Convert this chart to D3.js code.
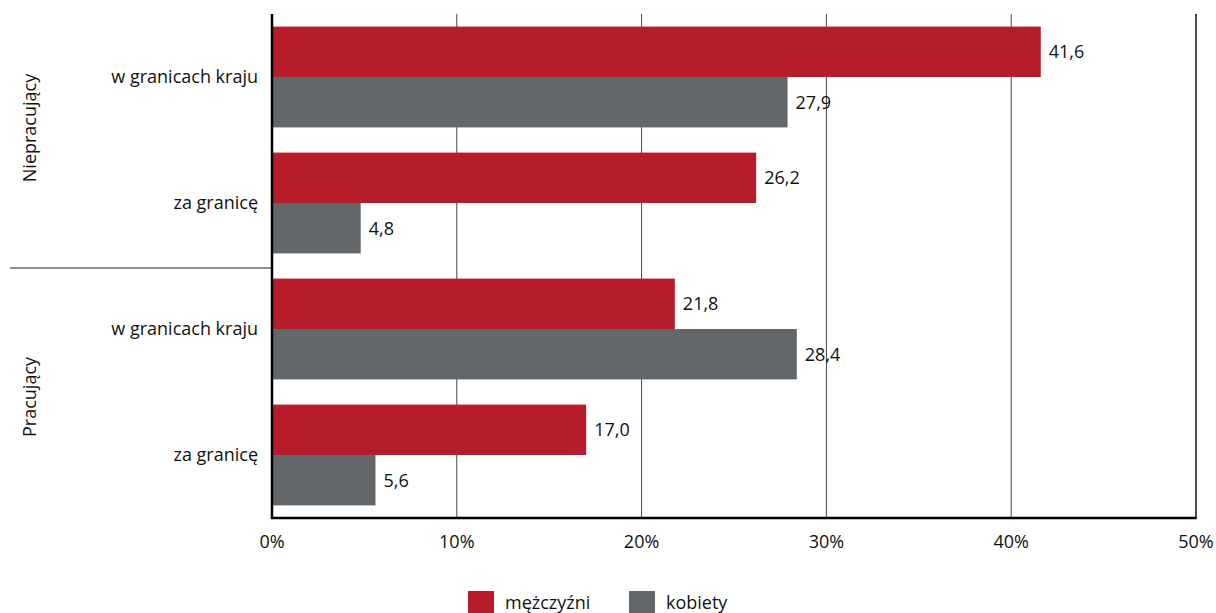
<!DOCTYPE html>
<html><head><meta charset="utf-8">
<script src="https://cdn.jsdelivr.net/npm/d3@7"></script>
<style>body{margin:0;background:#fff}svg{display:block}text{font-family:"Open Sans",sans-serif;fill:#111}</style>
</head><body><svg id="c" width="1216" height="613"></svg>
<script>
const groups = ["Niepracujący", "Pracujący"];
const categories = ["w granicach kraju", "za granicę", "w granicach kraju", "za granicę"];
const categoryGroup = [0, 0, 1, 1];
const seriesNames = ["mężczyźni", "kobiety"];
const men = [41.6, 26.2, 21.8, 17.0];
const women = [27.9, 4.8, 28.4, 5.6];
const xTicks = [0, 10, 20, 30, 40, 50];
const colors = ["#b71c2b", "#63676a"];

(function () {
const FS = 18;
const svg = d3.select("#c");
const mLeft = 272, mRight = 1196, mTop = 14, mBottom = 518;
const x = d3.scaleLinear().domain([0, 50]).range([mLeft, mRight]);
const y = d3.scaleBand().domain(d3.range(categories.length)).range([mTop, mBottom]).paddingInner(0.2).paddingOuter(0.1);
const ys = d3.scaleBand().domain([0, 1]).range([0, y.bandwidth()]);
const fmt = v => v.toFixed(1).replace(".", ",");

// gridlines
svg.append("g").selectAll("line").data(xTicks.slice(1, -1)).join("line")
  .attr("x1", d => x(d)).attr("x2", d => x(d)).attr("y1", mTop).attr("y2", mBottom)
  .attr("stroke", "#444").attr("stroke-width", 1);
svg.append("line").attr("x1", x(50)).attr("x2", x(50)).attr("y1", mTop).attr("y2", mBottom)
  .attr("stroke", "#111").attr("stroke-width", 1.5);

// bars
const series = [men, women];
series.forEach((vals, si) => {
  const g = svg.append("g");
  g.selectAll("rect").data(vals).join("rect")
    .attr("x", x(0)).attr("y", (d, i) => y(i) + ys(si))
    .attr("width", d => x(d) - x(0)).attr("height", ys.bandwidth())
    .attr("fill", colors[si]);
  g.selectAll("text").data(vals).join("text")
    .attr("x", d => x(d) + 8).attr("y", (d, i) => y(i) + ys(si) + ys.bandwidth() / 2)
    .attr("dy", "0.35em").attr("font-size", FS).text(fmt);
});

// axes lines
svg.append("line").attr("x1", mLeft).attr("x2", mLeft).attr("y1", mTop).attr("y2", mBottom + 1)
  .attr("stroke", "#000").attr("stroke-width", 2.5);
svg.append("line").attr("x1", mLeft - 1).attr("x2", mRight + 0.75).attr("y1", mBottom).attr("y2", mBottom)
  .attr("stroke", "#000").attr("stroke-width", 2.5);

// x tick labels
svg.append("g").selectAll("text").data(xTicks).join("text")
  .attr("x", d => x(d)).attr("y", 542).attr("dy", "0.35em").attr("text-anchor", "middle")
  .attr("font-size", FS).text(d => d + "%");

// category labels
svg.append("g").selectAll("text").data(categories).join("text")
  .attr("x", 258).attr("y", (d, i) => y(i) + y.bandwidth() / 2)
  .attr("dy", "0.35em").attr("text-anchor", "end").attr("font-size", FS).text(d => d);

// group labels and separator
const groupShift = [-12, 5];
groups.forEach((gname, gi) => {
  const idx = categoryGroup.map((g, i) => g === gi ? i : -1).filter(i => i >= 0);
  const y0 = y(idx[0]) - y.step() * y.paddingOuter();
  const y1 = y(idx[idx.length - 1]) + y.bandwidth() + y.step() * y.paddingOuter();
  const cy = (y0 + y1) / 2 + groupShift[gi];
  svg.append("text").attr("transform", `translate(30,${cy}) rotate(-90)`)
    .attr("text-anchor", "middle").attr("dy", "0.35em").attr("font-size", FS).text(gname);
});
const sepY = (y(1) + y.bandwidth() + y(2)) / 2 + 2;
svg.append("line").attr("x1", 10).attr("x2", mLeft).attr("y1", sepY).attr("y2", sepY)
  .attr("stroke", "#222").attr("stroke-width", 1);

// legend
const lx = [468, 629];
seriesNames.forEach((n, i) => {
  svg.append("rect").attr("x", lx[i]).attr("y", 591).attr("width", 26).attr("height", 22).attr("fill", colors[i]);
  svg.append("text").attr("x", lx[i] + 37).attr("y", 603).attr("dy", "0.35em").attr("font-size", FS).text(n);
});
})();
</script></body></html>
